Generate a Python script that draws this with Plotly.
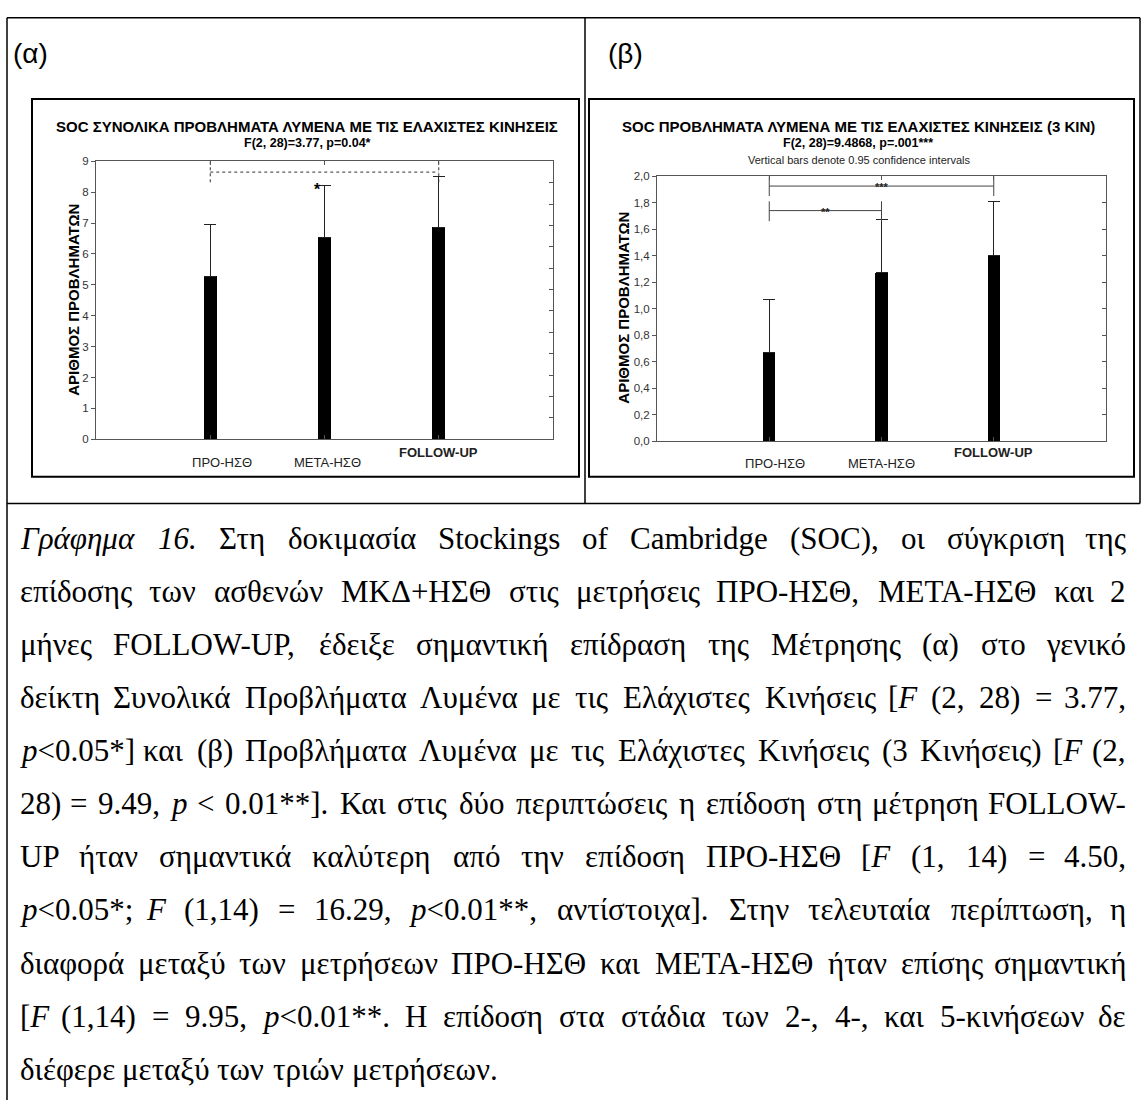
import plotly.graph_objects as go

# ---------------- data ----------------
categories = ["ΠΡΟ-ΗΣΘ", "ΜΕΤΑ-ΗΣΘ", "FOLLOW-UP"]
means_a = [5.27, 6.53, 6.87]
ci_a = [1.68, 1.68, 1.65]
means_b = [0.67, 1.27, 1.40]
ci_b = [0.40, 0.40, 0.41]

yticks_a = [0, 1, 2, 3, 4, 5, 6, 7, 8, 9]
yticks_b = [0.0, 0.2, 0.4, 0.6, 0.8, 1.0, 1.2, 1.4, 1.6, 1.8, 2.0]
right_ticks_a = [1, 2, 3, 4, 5, 6, 7, 8, 9, 10, 11, 12]  # secondary scale 0..13

panel_labels = ["(α)", "(β)"]
title_a = "SOC ΣΥΝΟΛΙΚΑ ΠΡΟΒΛΗΜΑΤΑ ΛΥΜΕΝΑ ΜΕ ΤΙΣ ΕΛΑΧΙΣΤΕΣ ΚΙΝΗΣΕΙΣ"
subtitle_a = "F(2, 28)=3.77, p=0.04*"
title_b = "SOC ΠΡΟΒΛΗΜΑΤΑ ΛΥΜΕΝΑ ΜΕ ΤΙΣ ΕΛΑΧΙΣΤΕΣ ΚΙΝΗΣΕΙΣ (3 ΚΙΝ)"
subtitle_b = "F(2, 28)=9.4868, p=.001***"
note_b = "Vertical bars denote 0.95 confidence intervals"
ytitle = "ΑΡΙΘΜΟΣ ΠΡΟΒΛΗΜΑΤΩΝ"

# significance brackets (category index from/to, level, vertical top/bottom)
sig_a = dict(i0=0, i1=2, level=8.65, top=9.0, bottom=8.30)
star_a = dict(i=1, y=8.08, label="*")
sig_b = [
    dict(i0=0, i1=2, level=1.925, top=2.0, bottom=1.85, label="***", lx=1.0),
    dict(i0=0, i1=1, level=1.74, top=1.81, bottom=1.66, label="**", lx=0.5),
]

caption_lines = [
    "~Γράφημα 16.~ Στη δοκιμασία Stockings of Cambridge (SOC), οι σύγκριση της",
    "επίδοσης των ασθενών ΜΚΔ+ΗΣΘ στις μετρήσεις ΠΡΟ-ΗΣΘ, ΜΕΤΑ-ΗΣΘ και 2",
    "μήνες FOLLOW-UP, έδειξε σημαντική επίδραση της Μέτρησης (α) στο γενικό",
    "δείκτη Συνολικά Προβλήματα Λυμένα με τις Ελάχιστες Κινήσεις [~F~ (2, 28) = 3.77,",
    "~p~<0.05*] και (β) Προβλήματα Λυμένα με τις Ελάχιστες Κινήσεις (3 Κινήσεις) [~F~ (2,",
    "28) = 9.49, ~p~ < 0.01**]. Και στις δύο περιπτώσεις η επίδοση στη μέτρηση FOLLOW-",
    "UP ήταν σημαντικά καλύτερη από την επίδοση ΠΡΟ-ΗΣΘ [~F~ (1, 14) = 4.50,",
    "~p~<0.05*; ~F~ (1,14) = 16.29, ~p~<0.01**, αντίστοιχα]. Στην τελευταία περίπτωση, η",
    "διαφορά μεταξύ των μετρήσεων ΠΡΟ-ΗΣΘ και ΜΕΤΑ-ΗΣΘ ήταν επίσης σημαντική",
    "[~F~ (1,14) = 9.95, ~p~<0.01**. Η επίδοση στα στάδια των 2-, 4-, και 5-κινήσεων δε",
    "διέφερε μεταξύ των τριών μετρήσεων.",
]

# ---------------- page geometry helpers ----------------
W, H = 1147, 1106


def px(x):
    return x / W


def py(y):
    return 1 - y / H


SANS = "Liberation Sans, Arial, sans-serif"
SERIF = "Liberation Serif, Times New Roman, serif"
AXC = "#555555"

xs = [i + 1 for i in range(len(categories))]

fig = go.Figure()

# bars panel a
fig.add_trace(go.Bar(
    x=xs, y=means_a, width=0.11, marker=dict(color="black", line=dict(width=0)),
    error_y=dict(type="data", symmetric=False, array=ci_a, arrayminus=[0] * 3,
                 color="#222222", thickness=1, width=6),
    xaxis="x", yaxis="y", showlegend=False, hoverinfo="skip"))
# bars panel b
fig.add_trace(go.Bar(
    x=xs, y=means_b, width=0.11, marker=dict(color="black", line=dict(width=0)),
    error_y=dict(type="data", symmetric=False, array=ci_b, arrayminus=[0] * 3,
                 color="#222222", thickness=1, width=6),
    xaxis="x2", yaxis="y2", showlegend=False, hoverinfo="skip"))


def bracket(s):
    x0, x1 = xs[s["i0"]], xs[s["i1"]]
    bx = [x0, x0, None, x0, x1, None, x1, x1]
    by = [s["top"], s["bottom"], None, s["level"], s["level"], None, s["top"], s["bottom"]]
    return bx, by


bx, by = bracket(sig_a)
fig.add_trace(go.Scatter(x=bx, y=by, mode="lines", line=dict(color="#333333", width=1, dash="dot"),
                         xaxis="x", yaxis="y", showlegend=False, hoverinfo="skip"))
for s in sig_b:
    bx, by = bracket(s)
    fig.add_trace(go.Scatter(x=bx, y=by, mode="lines", line=dict(color="#444444", width=1),
                             xaxis="x2", yaxis="y2", showlegend=False, hoverinfo="skip"))

# dummy traces for the secondary right-side tick axes
fig.add_trace(go.Scatter(x=[None], y=[None], xaxis="x", yaxis="y3", showlegend=False, hoverinfo="skip"))
fig.add_trace(go.Scatter(x=[None], y=[None], xaxis="x2", yaxis="y4", showlegend=False, hoverinfo="skip"))

xa_common = dict(range=[0, 4], tickvals=xs, showticklabels=False, ticks="inside", ticklen=4,
                 tickcolor=AXC, showline=True, linecolor=AXC, linewidth=1, mirror="ticks",
                 showgrid=False, zeroline=False, fixedrange=True)
ya_common = dict(ticks="outside", ticklen=4, tickcolor=AXC, showline=True, linecolor=AXC,
                 linewidth=1, mirror=True, showgrid=False, zeroline=False,
                 tickfont=dict(family=SANS, size=11.5, color="#333333"), fixedrange=True)

fig.update_layout(
    width=W, height=H, margin=dict(l=0, r=0, t=0, b=0),
    paper_bgcolor="white", plot_bgcolor="white", separators=",.",
    xaxis=dict(domain=[px(96), px(553)], anchor="y", **xa_common),
    yaxis=dict(domain=[py(438), py(157)], anchor="x", range=[0, 9], tickvals=yticks_a, **ya_common),
    yaxis3=dict(overlaying="y", anchor="x", side="right", range=[0, 13], tickvals=right_ticks_a,
                ticks="inside", ticklen=4, tickcolor=AXC, showticklabels=False, showline=False,
                showgrid=False, zeroline=False, fixedrange=True),
    xaxis2=dict(domain=[px(657), px(1106)], anchor="y2", **xa_common),
    yaxis2=dict(domain=[py(440), py(172)], anchor="x2", range=[0, 2], tickvals=yticks_b,
                tickformat=".1f", **ya_common),
    yaxis4=dict(overlaying="y2", anchor="x2", side="right", range=[0, 2], tickvals=yticks_b,
                ticks="inside", ticklen=4, tickcolor=AXC, showticklabels=False, showline=False,
                showgrid=False, zeroline=False, fixedrange=True),
    bargap=0,
)

# ---------------- frames ----------------
shapes = []


def line(x0, y0, x1, y1, w=1.5, c="black"):
    shapes.append(dict(type="line", xref="paper", yref="paper", x0=px(x0), y0=py(y0), x1=px(x1), y1=py(y1),
                       line=dict(color=c, width=w)))


line(7, 12, 1140, 12)
line(1140, 12, 1140, 503)
line(7, 503, 1140, 503)
line(7, 12, 7, 1106)
line(585, 12, 585, 503)
shapes.append(dict(type="rect", xref="paper", yref="paper", x0=px(32), y0=py(476), x1=px(579), y1=py(94),
                   line=dict(color="black", width=2)))
shapes.append(dict(type="rect", xref="paper", yref="paper", x0=px(589), y0=py(476), x1=px(1134), y1=py(94),
                   line=dict(color="black", width=2)))
fig.update_layout(shapes=shapes)

ann = []


def text(x, y, t, size, bold=False, family=SANS, xanchor="center", color="black", angle=0):
    ann.append(dict(xref="paper", yref="paper", x=px(x), y=py(y), text=("<b>%s</b>" % t) if bold else t,
                    showarrow=False, xanchor=xanchor, yanchor="middle", textangle=angle,
                    font=dict(family=family, size=size, color=color)))


text(11, 48, panel_labels[0], 28, xanchor="left")
text(606, 48, panel_labels[1], 28, xanchor="left")

text(307, 122, title_a, 15, bold=True)
text(307, 139, subtitle_a, 12.5, bold=True)
text(858, 122, title_b, 15, bold=True)
text(858, 139, subtitle_b, 12.5, bold=True)
text(859, 156, note_b, 11, color="#222222")

text(74, 297, ytitle, 15, bold=True, angle=-90)
text(624, 305, ytitle, 15, bold=True, angle=-90)

# category labels (FOLLOW-UP set higher and bold, as in the original)
lab_shift_a = [12, 3, 0]
lab_shift_b = [6, 0, 0]
for i, c in enumerate(categories):
    bold = c == "FOLLOW-UP"
    for xa, ybase, shifts in (("x", 462, lab_shift_a), ("x2", 463, lab_shift_b)):
        ann.append(dict(xref=xa, yref="paper", x=xs[i], y=py(451 if bold else ybase), xshift=shifts[i],
                        text=("<b>%s</b>" % c) if bold else c, showarrow=False,
                        xanchor="center", yanchor="middle",
                        font=dict(family=SANS, size=13, color="#222222")))

# significance labels
ann.append(dict(xref="x", yref="y", x=xs[star_a["i"]], y=star_a["y"], xshift=-7, text="<b>*</b>",
                showarrow=False, xanchor="center", yanchor="middle",
                font=dict(family=SANS, size=16, color="black")))
for s in sig_b:
    ann.append(dict(xref="x2", yref="y2", x=s["lx"] + 1, y=s["level"], yshift=7, text="<b>%s</b>" % s["label"],
                    showarrow=False, xanchor="center", yanchor="top",
                    font=dict(family=SANS, size=11, color="#222222")))

# ---------------- caption (justified, word by word) ----------------
TNR = {' ': 250, '!': 333, '(': 333, ')': 333, '*': 500, '+': 564, ',': 250, '-': 333, '.': 250,
       ':': 278, ';': 278, '<': 564, '=': 564, '>': 564, '[': 333, ']': 333,
       'A': 722, 'B': 667, 'C': 667, 'D': 722, 'E': 611, 'F': 556, 'G': 722, 'H': 722, 'I': 333,
       'J': 389, 'K': 722, 'L': 611, 'M': 889, 'N': 722, 'O': 722, 'P': 556, 'Q': 722, 'R': 667,
       'S': 556, 'T': 611, 'U': 722, 'V': 722, 'W': 944, 'X': 722, 'Y': 722, 'Z': 611,
       'a': 444, 'b': 500, 'c': 444, 'd': 500, 'e': 444, 'f': 333, 'g': 500, 'h': 500, 'i': 278,
       'j': 278, 'k': 500, 'l': 278, 'm': 778, 'n': 500, 'o': 500, 'p': 500, 'q': 500, 'r': 333,
       's': 389, 't': 278, 'u': 500, 'v': 500, 'w': 722, 'x': 500, 'y': 500, 'z': 444,
       'Α': 722, 'Β': 667, 'Γ': 578, 'Δ': 643, 'Ε': 611, 'Ζ': 611, 'Η': 722, 'Θ': 722, 'Ι': 333,
       'Κ': 722, 'Λ': 704, 'Μ': 889, 'Ν': 722, 'Ξ': 643, 'Ο': 722, 'Π': 722, 'Ρ': 556, 'Σ': 582,
       'Τ': 611, 'Υ': 722, 'Φ': 764, 'Χ': 722, 'Ψ': 793, 'Ω': 744,
       'α': 535, 'ά': 535, 'β': 497, 'γ': 456, 'δ': 493, 'ε': 411, 'έ': 411, 'ζ': 414, 'η': 510,
       'ή': 510, 'θ': 482, 'ι': 270, 'ί': 270, 'κ': 500, 'λ': 480, 'μ': 520, 'ν': 450, 'ξ': 414,
       'ο': 500, 'ό': 500, 'π': 531, 'ρ': 503, 'σ': 527, 'ς': 409, 'τ': 413, 'υ': 500, 'ύ': 500,
       'φ': 624, 'χ': 486, 'ψ': 665, 'ω': 689, 'ώ': 689}
for d in "0123456789":
    TNR[d] = 500

CAP_SIZE = 31
CAP_LEFT, CAP_RIGHT = 18, 1128
CAP_Y0, CAP_DY = 538, 53.7


def fmt_word(word, state):
    out = "<i>" if state else ""
    plain = ""
    for ch in word:
        if ch == "~":
            state = not state
            out += "<i>" if state else "</i>"
        else:
            plain += ch
            out += "&lt;" if ch == "<" else ch
    if state:
        out += "</i>"
    return out.replace("<i></i>", ""), plain, state


state = False
for li, ln in enumerate(caption_lines):
    words = ln.split(" ")
    items = []
    for w in words:
        disp, plain, state = fmt_word(w, state)
        wid = sum(TNR.get(ch, 500) for ch in plain) / 1000 * CAP_SIZE
        items.append((disp, wid))
    y = CAP_Y0 + li * CAP_DY
    last = li == len(caption_lines) - 1
    total = sum(w for _, w in items)
    gap = 0.25 * CAP_SIZE if last else (CAP_RIGHT - CAP_LEFT - total) / max(len(items) - 1, 1)
    xcur = CAP_LEFT
    for k, (disp, wid) in enumerate(items):
        if k == 0:
            xa, xpos = "left", CAP_LEFT
        elif k == len(items) - 1 and not last:
            xa, xpos = "right", CAP_RIGHT
        else:
            xa, xpos = "center", xcur + wid / 2
        ann.append(dict(xref="paper", yref="paper", x=px(xpos), y=py(y), text=disp, showarrow=False,
                        xanchor=xa, yanchor="middle",
                        font=dict(family=SERIF, size=CAP_SIZE, color="black")))
        xcur += wid + gap

fig.update_layout(annotations=ann)
fig.write_html("out.html")
